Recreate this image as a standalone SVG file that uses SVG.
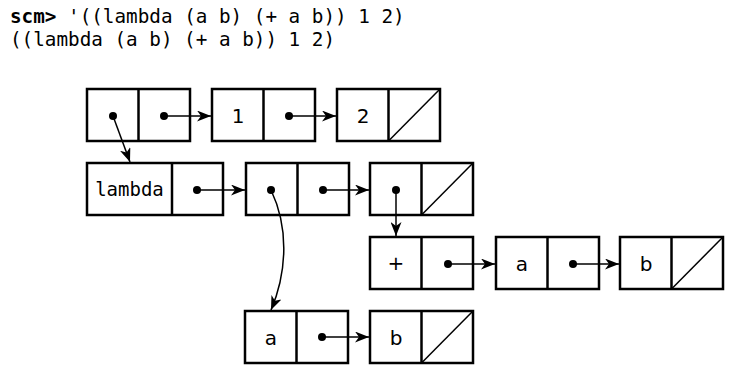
<svg xmlns="http://www.w3.org/2000/svg" width="736" height="376" viewBox="0 0 736 376">
<style>
.box{fill:#fff;stroke:#000;stroke-width:2.5}
.div{stroke:#000;stroke-width:2.5}
.nil{stroke:#000;stroke-width:1.5}
.lbl{font-family:"DejaVu Sans",sans-serif;font-size:20px;text-anchor:middle;fill:#000}
.mono{font-family:"DejaVu Sans Mono",monospace;font-size:19px;text-anchor:middle;fill:#000}
.hdr{font-family:"DejaVu Sans Mono",monospace;font-size:19.3px;fill:#000}
.dot{fill:#000}
.arr{fill:none;stroke:#000;stroke-width:1.5;marker-end:url(#ah)}
</style>
<defs>
<marker id="ah" markerWidth="15" markerHeight="11" refX="14" refY="5.5" orient="auto" markerUnits="userSpaceOnUse">
<path d="M0,0 L14,5.5 L0,11 L4,5.5 z" fill="#000"/>
</marker>
</defs>
<text class="hdr" x="10" y="23"><tspan font-weight="bold">scm&gt;</tspan> '((lambda (a b) (+ a b)) 1 2)</text>
<text class="hdr" x="10" y="46">((lambda (a b) (+ a b)) 1 2)</text>

<g id="p1"><rect class="box" x="87" y="89" width="103" height="52"/><line class="div" x1="138.5" y1="89" x2="138.5" y2="141"/><circle class="dot" cx="113" cy="116" r="4"/><circle class="dot" cx="164" cy="116" r="4"/></g>
<g id="p2"><rect class="box" x="212" y="89" width="103" height="52"/><line class="div" x1="263.5" y1="89" x2="263.5" y2="141"/><text class="lbl" x="238" y="123">1</text><circle class="dot" cx="289" cy="116" r="4"/></g>
<g id="p3"><rect class="box" x="337" y="89" width="103" height="52"/><line class="div" x1="388.5" y1="89" x2="388.5" y2="141"/><text class="lbl" x="363" y="123">2</text><line class="nil" x1="388.5" y1="141" x2="440" y2="89"/></g>

<g id="p4"><rect class="box" x="87" y="163" width="136" height="52"/><line class="div" x1="172" y1="163" x2="172" y2="215"/><text class="mono" x="129.5" y="196">lambda</text><circle class="dot" cx="197" cy="190" r="4"/></g>
<g id="p5"><rect class="box" x="246" y="163" width="103" height="52"/><line class="div" x1="297.5" y1="163" x2="297.5" y2="215"/><circle class="dot" cx="271" cy="190" r="4"/><circle class="dot" cx="323" cy="190" r="4"/></g>
<g id="p6"><rect class="box" x="370" y="163" width="103" height="52"/><line class="div" x1="421.5" y1="163" x2="421.5" y2="215"/><circle class="dot" cx="396" cy="190" r="4"/><line class="nil" x1="421.5" y1="215" x2="473" y2="163"/></g>

<g id="p7"><rect class="box" x="370" y="237" width="103" height="52"/><line class="div" x1="421.5" y1="237" x2="421.5" y2="289"/><text class="lbl" x="396" y="270">+</text><circle class="dot" cx="448" cy="264" r="4"/></g>
<g id="p8"><rect class="box" x="496" y="237" width="103" height="52"/><line class="div" x1="547.5" y1="237" x2="547.5" y2="289"/><text class="lbl" x="522" y="271">a</text><circle class="dot" cx="573" cy="264" r="4"/></g>
<g id="p9"><rect class="box" x="620" y="237" width="103" height="52"/><line class="div" x1="671.5" y1="237" x2="671.5" y2="289"/><text class="lbl" x="646" y="271">b</text><line class="nil" x1="671.5" y1="289" x2="723" y2="237"/></g>

<g id="p10"><rect class="box" x="245" y="311" width="103" height="52"/><line class="div" x1="296.5" y1="311" x2="296.5" y2="363"/><text class="lbl" x="271" y="345">a</text><circle class="dot" cx="322" cy="337" r="4"/></g>
<g id="p11"><rect class="box" x="370" y="311" width="103" height="52"/><line class="div" x1="421.5" y1="311" x2="421.5" y2="363"/><text class="lbl" x="396" y="345">b</text><line class="nil" x1="421.5" y1="363" x2="473" y2="311"/></g>

<g id="connectors">
<line class="arr" x1="164" y1="116" x2="211" y2="116"/>
<line class="arr" x1="289" y1="116" x2="336" y2="116"/>
<line class="arr" x1="113" y1="116" x2="130" y2="162"/>
<line class="arr" x1="197" y1="190" x2="245" y2="190"/>
<line class="arr" x1="323" y1="190" x2="369" y2="190"/>
<line class="arr" x1="396" y1="190" x2="396" y2="236"/>
<line class="arr" x1="448" y1="264" x2="495" y2="264"/>
<line class="arr" x1="573" y1="264" x2="619" y2="264"/>
<line class="arr" x1="322" y1="337" x2="369" y2="337"/>
<path class="arr" d="M271,190 C290,230 286,275 271,310"/>
</g>
</svg>
